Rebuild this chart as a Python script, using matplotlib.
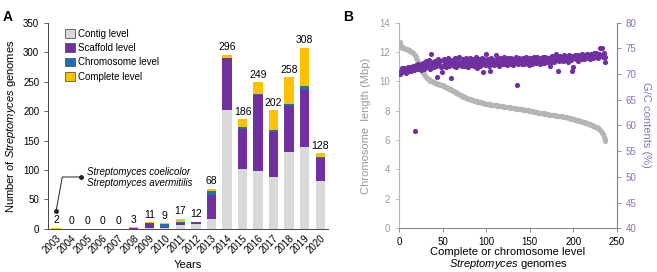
import matplotlib
matplotlib.use("Agg")
import matplotlib.pyplot as plt
from matplotlib.patches import Patch
import numpy as np

plt.rcParams['font.family'] = ['Liberation Sans', 'DejaVu Sans']
plt.rcParams['mathtext.fontset'] = 'custom'
plt.rcParams['mathtext.rm'] = 'Liberation Sans'
plt.rcParams['mathtext.it'] = 'Liberation Sans:italic'

# ---- panel A data ----
years = ["2003", "2004", "2005", "2006", "2007", "2008", "2009", "2010", "2011",
         "2012", "2013", "2014", "2015", "2016", "2017", "2018", "2019", "2020"]
contig     = [0, 0, 0, 0, 0, 0, 1, 2, 6, 8, 16, 202, 101, 98, 88, 131, 139, 81]
scaffold   = [0, 0, 0, 0, 0, 2, 9, 1, 4, 3, 41, 88, 68, 129, 77, 78, 97, 40]
chromosome = [0, 0, 0, 0, 0, 0, 0, 5, 1, 0, 7, 1, 4, 2, 3, 3, 7, 1]
complete   = [2, 0, 0, 0, 0, 1, 1, 1, 6, 1, 4, 5, 13, 20, 34, 46, 65, 6]

# ---- panel B data ----
length_mbp = [
    12.65, 12.45, 12.35, 12.30, 12.28, 12.25, 12.22, 12.20, 12.18, 12.15,
    12.12, 12.10, 12.06, 12.02, 11.98, 11.92, 11.85, 11.76, 11.66, 11.56,
    11.44, 11.32, 11.20, 11.08, 10.96, 10.84, 10.72, 10.60, 10.48, 10.38,
    10.30, 10.24, 10.18, 10.13, 10.09, 10.05, 10.02, 9.99, 9.96, 9.93,
    9.90, 9.88, 9.86, 9.84, 9.82, 9.80, 9.78, 9.76, 9.74, 9.72,
    9.69, 9.66, 9.63, 9.60, 9.57, 9.54, 9.51, 9.48, 9.45, 9.42,
    9.39, 9.36, 9.32, 9.29, 9.26, 9.22, 9.19, 9.16, 9.12, 9.08,
    9.05, 9.02, 8.99, 8.96, 8.93, 8.90, 8.88, 8.86, 8.83, 8.81,
    8.79, 8.77, 8.75, 8.73, 8.71, 8.69, 8.67, 8.65, 8.64, 8.62,
    8.61, 8.60, 8.58, 8.57, 8.55, 8.54, 8.52, 8.51, 8.49, 8.47,
    8.46, 8.45, 8.44, 8.43, 8.42, 8.41, 8.40, 8.39, 8.39, 8.38,
    8.37, 8.36, 8.35, 8.34, 8.33, 8.32, 8.31, 8.30, 8.29, 8.28,
    8.27, 8.26, 8.25, 8.24, 8.23, 8.23, 8.22, 8.21, 8.20, 8.19,
    8.18, 8.17, 8.16, 8.15, 8.14, 8.13, 8.12, 8.12, 8.11, 8.10,
    8.09, 8.08, 8.07, 8.06, 8.05, 8.04, 8.03, 8.02, 8.01, 7.99,
    7.98, 7.97, 7.96, 7.95, 7.94, 7.93, 7.92, 7.90, 7.89, 7.87,
    7.86, 7.85, 7.84, 7.83, 7.82, 7.81, 7.80, 7.78, 7.77, 7.76,
    7.75, 7.74, 7.73, 7.72, 7.71, 7.70, 7.69, 7.69, 7.68, 7.67,
    7.66, 7.65, 7.64, 7.64, 7.63, 7.62, 7.61, 7.60, 7.59, 7.58,
    7.57, 7.55, 7.54, 7.52, 7.50, 7.49, 7.47, 7.46, 7.44, 7.42,
    7.41, 7.39, 7.38, 7.36, 7.34, 7.33, 7.31, 7.30, 7.28, 7.26,
    7.24, 7.22, 7.20, 7.18, 7.16, 7.14, 7.12, 7.10, 7.08, 7.06,
    7.03, 7.00, 6.97, 6.95, 6.92, 6.89, 6.86, 6.83, 6.79, 6.74,
    6.68, 6.60, 6.50, 6.40, 6.24, 6.05, 5.92]

gc_pct = [
    70.0, 70.6, 71.1, 70.3, 70.8, 71.2, 70.5, 70.1, 70.9, 71.3,
    70.5, 71.0, 71.4, 70.6, 71.1, 71.6, 70.7, 58.9, 71.2, 71.7,
    70.9, 71.9, 71.2, 71.7, 70.7, 72.0, 71.3, 72.2, 71.0, 71.6,
    72.5, 71.3, 72.1, 71.6, 72.8, 71.0, 73.9, 71.8, 72.4, 71.4,
    72.6, 71.6, 72.2, 69.5, 72.9, 71.8, 72.5, 71.4, 70.3, 72.7,
    71.6, 73.0, 71.9, 71.3, 72.6, 73.2, 71.5, 72.2, 72.8, 69.3,
    71.9, 72.7, 71.6, 73.1, 72.3, 71.4, 72.9, 71.9, 73.3, 71.7,
    72.4, 71.5, 73.0, 72.1, 72.7, 71.6, 73.2, 72.2, 71.4, 72.9,
    71.9, 73.1, 71.7, 72.4, 73.0, 71.5, 72.1, 73.3, 71.1, 72.6,
    71.9, 73.0, 71.6, 72.4, 73.1, 70.3, 72.1, 72.9, 71.8, 73.9,
    72.2, 73.0, 71.6, 72.6, 70.5, 73.2, 72.0, 72.8, 71.7, 72.4,
    73.7, 71.9, 73.0, 72.2, 71.6, 73.1, 72.4, 71.9, 72.8, 73.3,
    72.0, 73.0, 72.3, 71.7, 73.1, 72.2, 72.8, 71.9, 73.2, 72.5,
    71.7, 73.0, 72.2, 73.3, 67.9, 72.5, 71.9, 73.1, 72.3, 72.9,
    72.0, 73.2, 72.5, 71.9, 73.0, 73.3, 72.1, 72.8, 71.8, 73.1,
    72.3, 73.2, 72.0, 73.0, 73.4, 72.4, 72.1, 73.1, 73.3, 72.2,
    72.9, 72.0, 73.2, 72.5, 73.4, 72.7, 72.1, 73.3, 72.9, 72.3,
    73.2, 72.6, 71.6, 73.3, 72.4, 73.5, 73.0, 72.3, 73.4, 73.9,
    72.8, 70.6, 73.3, 72.5, 73.5, 73.0, 73.4, 72.6, 73.1, 73.6,
    72.7, 73.4, 73.0, 72.4, 73.6, 73.2, 72.7, 73.5, 70.6, 71.4,
    73.1, 73.6, 72.9, 73.4, 72.6, 73.7, 73.2, 73.5, 72.9, 73.8,
    73.3, 73.0, 73.7, 73.4, 73.1, 73.8, 73.3, 73.6, 73.0, 73.9,
    73.4, 73.7, 73.2, 74.0, 74.0, 74.1, 73.4, 73.8, 73.2, 73.9,
    75.0, 73.6, 75.0, 73.3, 74.0, 73.4, 72.4]

c_contig = "#d9d9d9"
c_scaf = "#7030a0"
c_chrom = "#1f6fb8"
c_comp = "#ffc000"
c_grey = "#b5b5b5"
c_purp_ax = "#8e72b8"

fig = plt.figure(figsize=(6.57, 2.72), dpi=100)

# ================= panel A =================
axA = fig.add_axes([0.0735, 0.159, 0.4257, 0.757])
x = np.arange(len(years))
contig = np.array(contig)
scaffold = np.array(scaffold)
chromosome = np.array(chromosome)
complete = np.array(complete)
w = 0.6
axA.bar(x, contig, w, color=c_contig)
axA.bar(x, scaffold, w, bottom=contig, color=c_scaf)
axA.bar(x, chromosome, w, bottom=contig + scaffold, color=c_chrom)
axA.bar(x, complete, w, bottom=contig + scaffold + chromosome, color=c_comp)
totals = contig + scaffold + chromosome + complete
for xi, t in zip(x, totals):
    axA.text(xi, t + 4, str(t), ha='center', va='bottom', fontsize=7.5)

axA.set_xlim(-0.5, 17.5)
axA.set_ylim(0, 350)
axA.set_yticks(range(0, 351, 50))
axA.set_xticks(x)
axA.set_xticklabels(years, rotation=45, ha='right', rotation_mode='anchor', fontsize=7)
axA.tick_params(axis='x', length=0, pad=3)
axA.tick_params(axis='y', labelsize=7, length=3, width=0.6, color='#444444')
for s in ['top', 'right']:
    axA.spines[s].set_visible(False)
for s in ['left', 'bottom']:
    axA.spines[s].set_linewidth(0.7)
    axA.spines[s].set_color('#444444')
axA.set_xlabel("Years", fontsize=8)
axA.xaxis.set_label_coords(0.5, -0.15)
axA.set_ylabel(r"Number of $\it{Streptomyces}$ genomes", fontsize=8, labelpad=4)

handles = [Patch(facecolor=c_contig, edgecolor='#555555', lw=0.6, label="Contig level"),
           Patch(facecolor=c_scaf, edgecolor='#555555', lw=0.6, label="Scaffold level"),
           Patch(facecolor=c_chrom, edgecolor='#555555', lw=0.6, label="Chromosome level"),
           Patch(facecolor=c_comp, edgecolor='#555555', lw=0.6, label="Complete level")]
axA.legend(handles=handles, loc='upper left', bbox_to_anchor=(0.04, 1.0), frameon=False,
           fontsize=7, handlelength=1.0, handleheight=1.0, handletextpad=0.3,
           labelspacing=0.45, borderaxespad=0.2)

# annotation for the first genomes
axA.plot([0, 0.4, 1.6], [30, 88, 88], color='#222222', lw=0.7)
axA.plot([0, 1.6], [30, 88], 'o', color='#222222', ms=2.5)
axA.text(2.0, 96, "Streptomyces coelicolor", style='italic', fontsize=7, va='center')
axA.text(2.0, 77, "Streptomyces avermitilis", style='italic', fontsize=7, va='center')

# ================= panel B =================
axB = fig.add_axes([0.6073, 0.161, 0.3314, 0.756])
idx = np.arange(1, len(length_mbp) + 1)
axB.scatter(idx, length_mbp, s=14, color=c_grey, lw=0, zorder=2)
axB.set_xlim(0, 250)
axB.set_ylim(0, 14)
axB.set_xticks(range(0, 251, 50))
axB.set_yticks(range(0, 15, 2))
axB.tick_params(axis='x', labelsize=7, length=3, width=0.6, color='#777777')
axB.tick_params(axis='y', labelsize=7, length=3, width=0.6, color=c_grey, labelcolor='#999999')
axB.spines['top'].set_visible(False)
axB.spines['right'].set_visible(False)
axB.spines['left'].set_color(c_grey)
axB.spines['bottom'].set_color('#888888')
axB.spines['left'].set_linewidth(0.8)
axB.spines['bottom'].set_linewidth(0.8)
axB.set_ylabel("Chromosome  length (Mbp)", fontsize=8, color='#999999', labelpad=6)
axB.set_xlabel("Complete or chromosome level\n" + r"$\it{Streptomyces}$ genomes",
               fontsize=8, linespacing=1.05)
axB.xaxis.set_label_coords(0.5, -0.09)

axB2 = axB.twinx()
axB2.scatter(idx, gc_pct, s=14, color=c_scaf, lw=0, zorder=3)
axB2.set_ylim(40, 80)
axB2.set_yticks(range(40, 81, 5))
axB2.tick_params(axis='y', labelsize=7, length=3, width=0.6, color=c_purp_ax, labelcolor=c_purp_ax)
for s in ['top', 'left', 'bottom']:
    axB2.spines[s].set_visible(False)
axB2.spines['right'].set_color(c_purp_ax)
axB2.spines['right'].set_linewidth(0.8)
axB2.set_ylabel("G/C contents (%)", fontsize=8, color=c_purp_ax, rotation=270, labelpad=10)

fig.text(0.004, 0.965, "A", fontsize=10, fontweight='bold', va='top')
fig.text(0.522, 0.965, "B", fontsize=10, fontweight='bold', va='top')

fig.savefig("out.png", dpi=100)
